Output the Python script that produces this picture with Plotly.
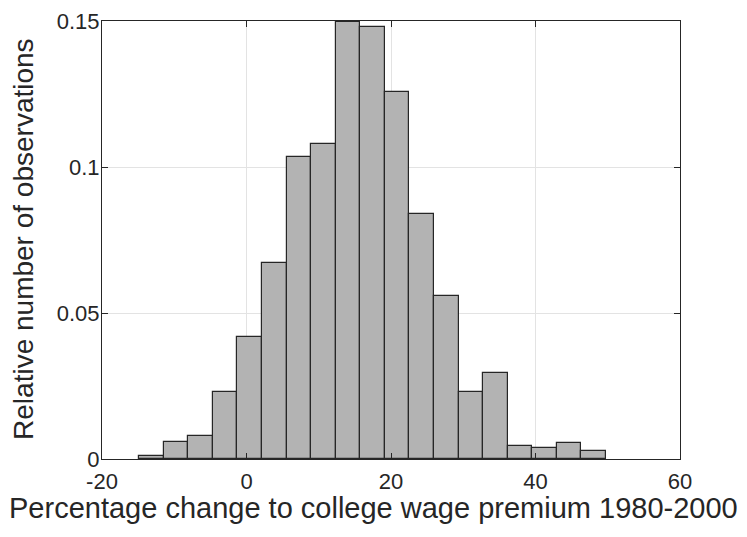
import plotly.graph_objects as go

# Histogram bins (centres, percentage change) and relative frequencies
bin_centers = [-13.15, -9.75, -6.35, -2.95, 0.45, 3.85, 7.25, 10.65, 14.05, 17.45,
               20.85, 24.25, 27.65, 31.05, 34.45, 37.85, 41.25, 44.65, 48.05]
rel_freq = [0.0011, 0.0057, 0.0079, 0.0229, 0.0418, 0.0672, 0.1033, 0.1079, 0.1498, 0.1478,
            0.1258, 0.0838, 0.0558, 0.0228, 0.0293, 0.0046, 0.0037, 0.0056, 0.0028]
bin_width = 3.4

x_ticks = [-20, 0, 20, 40, 60]
x_tick_text = ["-20", "0", "20", "40", "60"]
y_ticks = [0, 0.05, 0.1, 0.15]
y_tick_text = ["0", "0.05", "0.1", "0.15"]

x_label = "Percentage change to college wage premium 1980-2000"
y_label = "Relative number of observations"

FONT = "Liberation Sans, Arial, Helvetica, sans-serif"
TXT = "#262626"

fig = go.Figure()
fig.add_trace(go.Bar(
    x=bin_centers, y=rel_freq, width=bin_width,
    marker=dict(color="#b3b3b3", line=dict(color="#262626", width=1.2)),
    showlegend=False, hoverinfo="x+y",
))

axis_common = dict(
    showline=True, linecolor=TXT, linewidth=1, mirror="ticks",
    ticks="inside", ticklen=6, tickcolor=TXT, tickwidth=1,
    showgrid=True, gridcolor="#e3e3e3", gridwidth=1,
    zeroline=False, automargin=False,
    tickfont=dict(family=FONT, size=22, color=TXT),
)

# The page body adds an 8px offset, so the figure is 8px smaller than the window
fig.update_layout(
    width=739, height=529,
    margin=dict(l=94, r=67, t=13, b=78),
    paper_bgcolor="white", plot_bgcolor="white",
    bargap=0,
    xaxis=dict(range=[-20, 60], tickvals=x_ticks, ticktext=x_tick_text, ticklabelstandoff=3,
               **axis_common),
    yaxis=dict(range=[0, 0.15], tickvals=y_ticks, ticktext=y_tick_text, ticklabelstandoff=-3,
               **axis_common),
    annotations=[
        dict(text=x_label, xref="paper", yref="paper", x=0.4697, y=-0.112,
             xanchor="center", yanchor="middle", showarrow=False,
             font=dict(family=FONT, size=29, color=TXT)),
        dict(text=y_label, xref="paper", yref="paper", x=-0.137, y=0.502,
             xanchor="center", yanchor="middle", showarrow=False, textangle=-90,
             font=dict(family=FONT, size=28, color=TXT)),
    ],
)

fig.write_html("out.html")
